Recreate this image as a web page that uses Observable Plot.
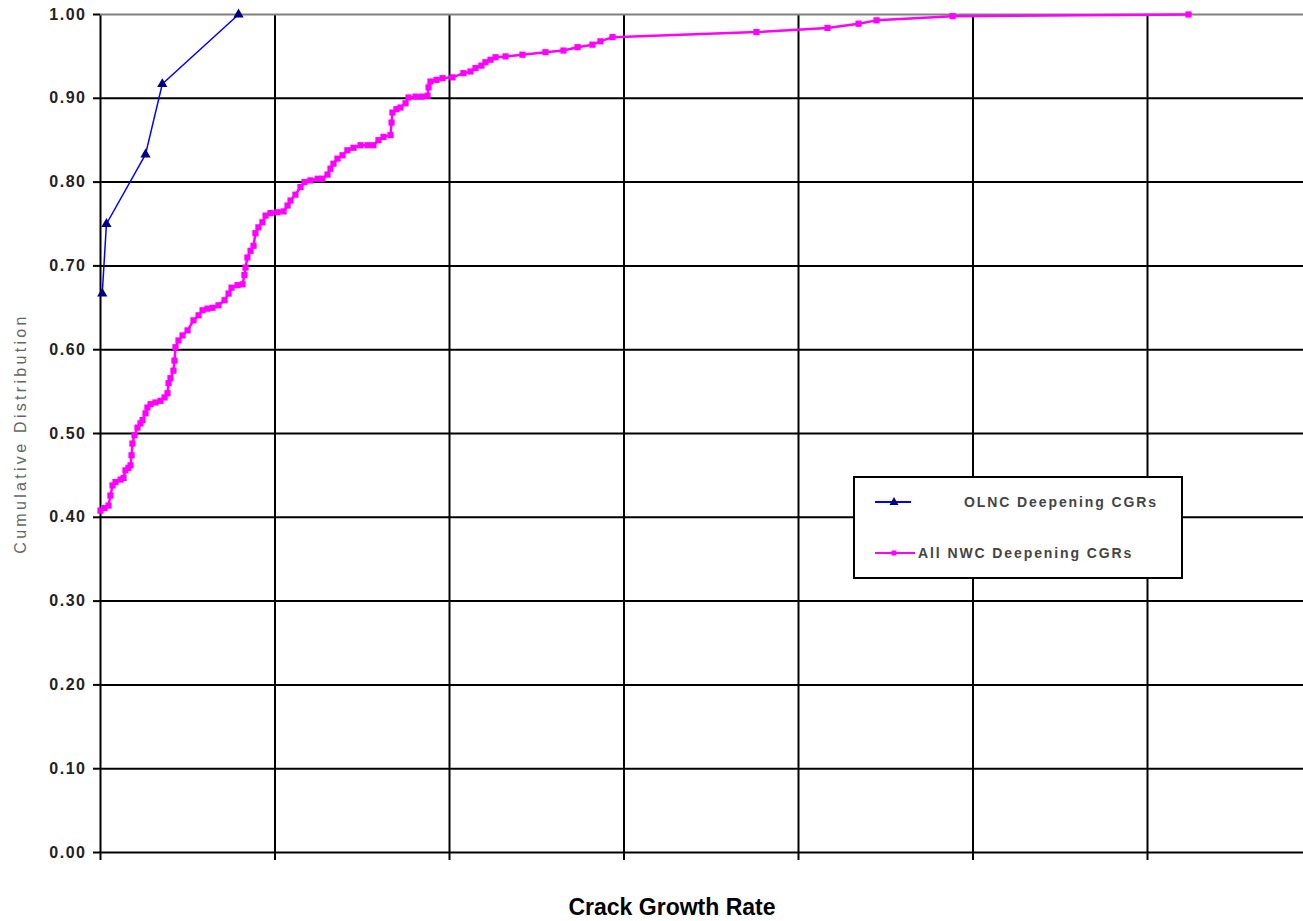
<!DOCTYPE html>
<html><head><meta charset="utf-8">
<script src="https://cdn.jsdelivr.net/npm/d3@7"></script>
<script src="https://cdn.jsdelivr.net/npm/@observablehq/plot@0.6"></script>
<style>
body{margin:0;background:#fff;font-family:Arial,"Liberation Sans",sans-serif;}
#wrap{position:relative;width:1303px;height:921px;overflow:hidden;}
#legend{position:absolute;left:853px;top:476px;width:326px;height:99px;border:2px solid #000;background:#fff;}
.ltext{position:absolute;font-size:14px;font-weight:bold;color:#444;letter-spacing:1.9px;white-space:nowrap;line-height:20px;}
</style>
</head><body>
<div id="wrap"></div>
<script>
// Cumulative distribution of crack growth rates (x in grid-division units)
const olncX = [0.010, 0.034, 0.258, 0.354, 0.791];
const olncY = [0.667, 0.750, 0.833, 0.917, 1.000];

const nwcX = [0.000,0.023,0.046,0.057,0.069,0.086,0.115,0.132,0.143,0.160,0.172,0.178,0.183,0.195,0.212,0.229,0.241,0.258,0.269,0.287,0.315,0.344,0.367,0.384,0.390,0.401,0.418,0.424,0.430,0.447,0.470,0.499,0.533,0.562,0.585,0.613,0.642,0.676,0.711,0.734,0.751,0.785,0.814,0.825,0.831,0.842,0.860,0.877,0.888,0.905,0.928,0.946,0.974,1.014,1.049,1.072,1.089,1.117,1.146,1.169,1.203,1.244,1.272,1.301,1.318,1.335,1.358,1.387,1.415,1.450,1.490,1.530,1.564,1.593,1.622,1.662,1.668,1.673,1.696,1.719,1.748,1.765,1.805,1.840,1.874,1.880,1.891,1.926,1.960,2.017,2.080,2.120,2.149,2.183,2.206,2.235,2.264,2.321,2.418,2.550,2.653,2.734,2.819,2.865,2.934,3.759,4.166,4.344,4.447,4.883,6.235];
const nwcY = [0.408,0.411,0.414,0.426,0.438,0.442,0.445,0.447,0.456,0.459,0.462,0.474,0.488,0.498,0.507,0.512,0.516,0.524,0.531,0.535,0.537,0.539,0.543,0.548,0.560,0.566,0.575,0.587,0.603,0.611,0.617,0.623,0.635,0.641,0.647,0.649,0.650,0.653,0.659,0.667,0.674,0.677,0.678,0.689,0.698,0.710,0.718,0.724,0.739,0.746,0.752,0.760,0.763,0.764,0.765,0.772,0.778,0.785,0.794,0.800,0.802,0.804,0.804,0.809,0.816,0.822,0.828,0.832,0.838,0.841,0.844,0.844,0.844,0.850,0.854,0.856,0.871,0.883,0.887,0.889,0.894,0.901,0.902,0.902,0.903,0.913,0.920,0.922,0.924,0.925,0.930,0.932,0.936,0.939,0.943,0.946,0.949,0.950,0.952,0.955,0.957,0.961,0.964,0.968,0.973,0.979,0.984,0.989,0.993,0.998,1.000];

const xTicks = [0,1,2,3,4,5,6];
const xMax = 6.894;
const yTicks = [0,0.1,0.2,0.3,0.4,0.5,0.6,0.7,0.8,0.9,1.0];
const seriesNames = ["OLNC Deepening CGRs", "All NWC Deepening CGRs"];
const seriesColors = ["#0000ff", "#ff00ff"];
const markerColors = ["#000080", "#ff00ff"];
const yTitle = "Cumulative Distribution";
const xTitle = "Crack Growth Rate";

const olnc = olncX.map((x,i)=>({x, y: olncY[i]}));
const nwc = nwcX.map((x,i)=>({x, y: nwcY[i]}));

const plot = Plot.plot({
  width: 1303, height: 921,
  marginLeft: 100, marginRight: 0, marginTop: 14, marginBottom: 69,
  style: {fontFamily: "Arial, 'Liberation Sans', sans-serif", background: "#fff"},
  x: {domain: [0, xMax], axis: null},
  y: {domain: [0, 1], axis: null},
  marks: [
    Plot.ruleY(yTicks.filter(d => d < 1), {stroke: "#000", strokeWidth: 2}),
    Plot.ruleX(xTicks, {y1: 0, y2: 1, stroke: "#000", strokeWidth: 2}),
    Plot.ruleY([1], {stroke: "#808080", strokeWidth: 2}),
    Plot.axisX({ticks: xTicks, tickSize: 8, tickFormat: () => "", stroke: "#000", strokeWidth: 2, label: null}),
    Plot.axisY({ticks: yTicks, tickSize: 7, tickPadding: 7, tickFormat: d3.format(".2f"),
      stroke: "#000", strokeWidth: 2, fontSize: 16, fontWeight: "bold", fill: "#222", label: null,
      className: "ytl"}),
    Plot.text([yTitle], {frameAnchor: "left", textAnchor: "middle", dx: -80, rotate: -90, text: d => d,
      fontSize: 16, fill: "#666", className: "ytitle"}),
    Plot.text([xTitle], {frameAnchor: "bottom", lineAnchor: "middle", dy: 55, dx: -30, text: d => d,
      fontSize: 23, fontWeight: "bold", fill: "#000"}),
    Plot.line(nwc, {x: "x", y: "y", stroke: seriesColors[1], strokeWidth: 2.5}),
    Plot.dot(nwc, {x: "x", y: "y", symbol: "square", r: 3.5, fill: markerColors[1]}),
    Plot.line(olnc, {x: "x", y: "y", stroke: seriesColors[0], strokeWidth: 1.5}),
    Plot.dot(olnc, {x: "x", y: "y", symbol: "triangle", r: 3.8, fill: markerColors[0]})
  ]
});
const wrap = document.getElementById("wrap");
wrap.appendChild(plot);
d3.select(plot).selectAll(".ytl text").style("letter-spacing", "1.5px");
d3.select(plot).selectAll(".ytitle text").style("letter-spacing", "3.3px");

// legend
const legend = document.createElement("div");
legend.id = "legend";
const rows = [
  {swTop: 14, swLeft: 20, swW: 36, textLeft: 109, sym: "tri"},
  {swTop: 65, swLeft: 20, swW: 40, textLeft: 63, sym: "sq"}
];
rows.forEach((r, i) => {
  const sw = document.createElementNS("http://www.w3.org/2000/svg", "svg");
  sw.setAttribute("width", r.swW); sw.setAttribute("height", 20);
  sw.style.position = "absolute"; sw.style.left = r.swLeft + "px"; sw.style.top = r.swTop + "px";
  const ln = document.createElementNS("http://www.w3.org/2000/svg", "line");
  ln.setAttribute("x1", 0); ln.setAttribute("x2", r.swW); ln.setAttribute("y1", 10); ln.setAttribute("y2", 10);
  ln.setAttribute("stroke", seriesColors[i]); ln.setAttribute("stroke-width", 2);
  sw.appendChild(ln);
  const mk = document.createElementNS("http://www.w3.org/2000/svg", "path");
  const cx = 19, cy = 10;
  if (r.sym === "tri") mk.setAttribute("d", `M${cx},${cy-5}L${cx+4.5},${cy+3}L${cx-4.5},${cy+3}Z`);
  else mk.setAttribute("d", `M${cx-2.5},${cy-2.5}h5v5h-5Z`);
  mk.setAttribute("fill", markerColors[i]);
  sw.appendChild(mk);
  legend.appendChild(sw);
  const t = document.createElement("div");
  t.className = "ltext";
  t.style.left = r.textLeft + "px"; t.style.top = r.swTop + "px";
  t.textContent = seriesNames[i];
  legend.appendChild(t);
});
wrap.appendChild(legend);
</script>
</body></html>
